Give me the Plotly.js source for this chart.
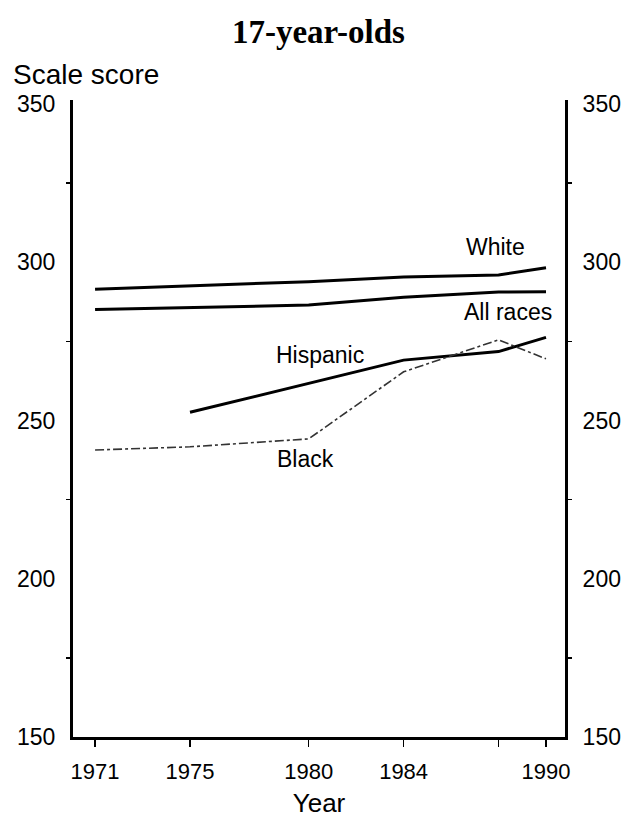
<!DOCTYPE html>
<html>
<head>
<meta charset="utf-8">
<script src="https://cdn.plot.ly/plotly-3.0.1.min.js"></script>
<style>html,body{margin:0;padding:0;background:#fff;}#chart{width:628px;height:821px;}</style>
</head>
<body>
<div id="chart"></div>
<script>
// Data
const yearsAll = [1971, 1975, 1980, 1984, 1988, 1990];
const yearsHispanic = [1975, 1980, 1984, 1988, 1990];
const white = [291.5, 292.5, 293.9, 295.4, 296.0, 298.3];
const allRaces = [285.1, 285.7, 286.5, 289.0, 290.6, 290.7];
const hispanic = [252.6, 261.7, 269.1, 271.8, 276.3];
const black = [240.7, 241.7, 244.2, 265.4, 275.5, 269.5];
const xTickVals = [1971, 1975, 1980, 1984, 1988, 1990];
const xTickText = ['1971', '1975', '1980', '1984', '', '1990'];

const FONT = 'Liberation Sans, Arial, sans-serif';

const traces = [
  {x: yearsAll, y: white, mode: 'lines', line: {color: '#000', width: 3}, name: 'White'},
  {x: yearsAll, y: allRaces, mode: 'lines', line: {color: '#000', width: 3}, name: 'All races'},
  {x: yearsHispanic, y: hispanic, mode: 'lines', line: {color: '#000', width: 3}, name: 'Hispanic'},
  {x: yearsAll, y: black, mode: 'lines', line: {color: '#333', width: 1.6, dash: 'dashdot'}, name: 'Black'},
  {x: yearsAll, y: white, yaxis: 'y2', mode: 'lines', line: {color: 'rgba(0,0,0,0)', width: 0}, hoverinfo: 'skip', showlegend: false}
];

const yCommon = {
  range: [150, 351.3],
  tickmode: 'linear',
  tick0: 150,
  dtick: 50,
  ticks: '',
  minor: {dtick: 25, tick0: 150, ticks: 'outside', ticklen: 4, tickwidth: 1.5, tickcolor: '#000', showgrid: false},
  showline: true,
  linewidth: 3,
  linecolor: '#000',
  showgrid: false,
  zeroline: false,
  ticklabelstandoff: 10,
  tickfont: {family: FONT, size: 23, color: '#000'}
};

const layout = {
  width: 628,
  height: 821,
  margin: {l: 73, r: 63, t: 100, b: 84},
  paper_bgcolor: '#fff',
  plot_bgcolor: '#fff',
  showlegend: false,
  title: {
    text: '<b>17-year-olds</b>',
    font: {family: 'Liberation Serif, Times New Roman, serif', size: 33, color: '#000'},
    x: 0.507, xanchor: 'center', y: 0.962, yanchor: 'middle'
  },
  xaxis: {
    range: [1970.07, 1990.8],
    tickvals: xTickVals,
    ticktext: xTickText,
    ticks: 'outside',
    ticklen: 7,
    tickwidth: 1.5,
    tickcolor: '#000',
    showline: true,
    linewidth: 3,
    linecolor: '#000',
    showgrid: false,
    zeroline: false,
    ticklabelstandoff: 6,
    tickfont: {family: FONT, size: 22, color: '#000'},
    title: {text: 'Year', font: {family: FONT, size: 26, color: '#000'}, standoff: 11}
  },
  yaxis: Object.assign({}, yCommon, {side: 'left'}),
  yaxis2: Object.assign({}, yCommon, {side: 'right', overlaying: 'y'}),
  annotations: [
    {text: 'Scale score', xref: 'paper', yref: 'paper', x: -0.126, y: 1.04, xanchor: 'left', yanchor: 'middle', showarrow: false, font: {family: FONT, size: 28, color: '#000'}},
    {text: 'White', xref: 'x', yref: 'y', x: 1987.89, y: 304.8, xanchor: 'center', yanchor: 'middle', showarrow: false, font: {family: FONT, size: 23, color: '#000'}},
    {text: 'All races', xref: 'x', yref: 'y', x: 1988.4, y: 284.3, xanchor: 'center', yanchor: 'middle', showarrow: false, font: {family: FONT, size: 23, color: '#000'}},
    {text: 'Hispanic', xref: 'x', yref: 'y', x: 1980.47, y: 270.7, xanchor: 'center', yanchor: 'middle', showarrow: false, font: {family: FONT, size: 23, color: '#000'}},
    {text: 'Black', xref: 'x', yref: 'y', x: 1979.88, y: 237.8, xanchor: 'center', yanchor: 'middle', showarrow: false, font: {family: FONT, size: 23, color: '#000'}}
  ]
};

Plotly.newPlot('chart', traces, layout, {displayModeBar: false, staticPlot: true});
</script>
</body>
</html>
